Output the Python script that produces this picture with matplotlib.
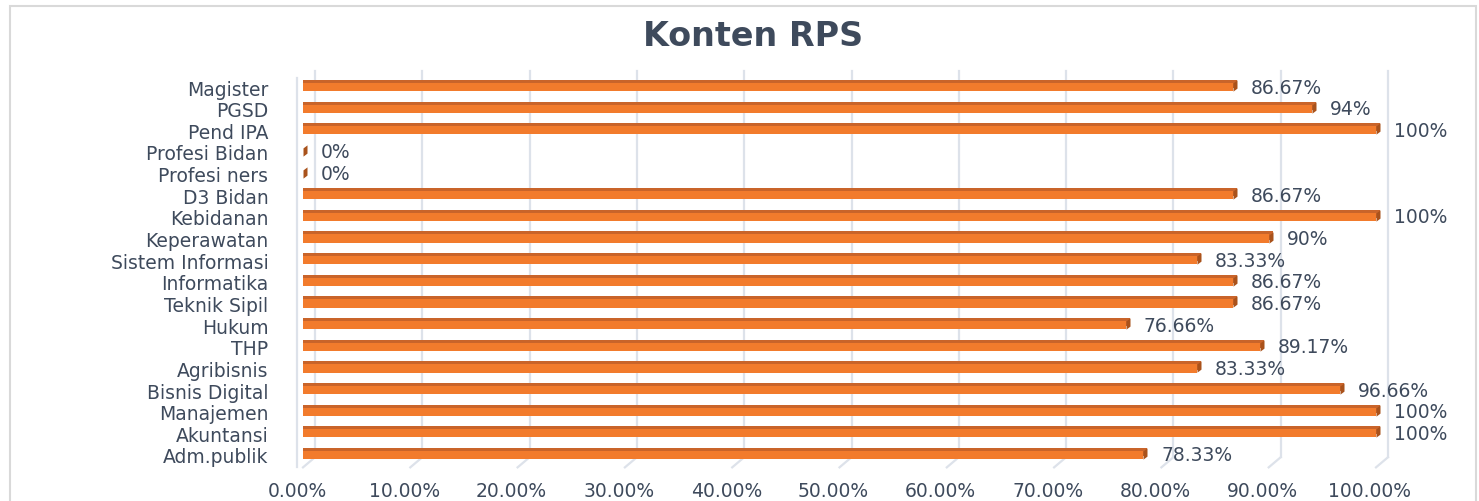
import numpy as np
import matplotlib
matplotlib.use("Agg")
import matplotlib.pyplot as plt
import matplotlib.transforms as mtransforms
from matplotlib.path import Path
from matplotlib.patches import Rectangle

categories = ["Adm.publik", "Akuntansi", "Manajemen", "Bisnis Digital", "Agribisnis",
              "THP", "Hukum", "Teknik Sipil", "Informatika", "Sistem Informasi",
              "Keperawatan", "Kebidanan", "D3 Bidan", "Profesi ners", "Profesi Bidan",
              "Pend IPA", "PGSD", "Magister"]
values = [78.33, 100, 100, 96.66, 83.33, 89.17, 76.66, 86.67, 86.67, 83.33,
          90, 100, 86.67, 0, 0, 100, 94, 86.67]
value_labels = ["78.33%", "100%", "100%", "96.66%", "83.33%", "89.17%", "76.66%",
                "86.67%", "86.67%", "83.33%", "90%", "100%", "86.67%", "0%", "0%",
                "100%", "94%", "86.67%"]
x_ticks = [0, 10, 20, 30, 40, 50, 60, 70, 80, 90, 100]
x_tick_labels = ["0.00%", "10.00%", "20.00%", "30.00%", "40.00%", "50.00%",
                 "60.00%", "70.00%", "80.00%", "90.00%", "100.00%"]
title = "Konten RPS"

TEXT = "#3E4A5C"
ORANGE = "#F27B2C"
DARK = "#A9521B"
TOPC = "#C9642A"
GRID = "#DDE2EA"

W, H = 1479, 502
fig = plt.figure(figsize=(W / 100, H / 100), dpi=100)
fig.patches.append(Rectangle((10 / W, -0.01), (1476 - 10) / W, (H - 7) / H + 0.01,
                             transform=fig.transFigure, fill=False,
                             edgecolor="#D9D9D9", lw=1.5))

ax = fig.add_axes([303 / W, 35.2 / H, 1073 / W, 389.6 / H])
ax.set_xlim(0, 100)
ax.set_ylim(-0.5, len(categories) - 0.5)
for s in ax.spines.values():
    s.set_visible(False)

px_per_x = ax.bbox.width / 100.0
px_per_y = ax.bbox.height / len(categories)

# 3D offsets (pixels)
dxp, dyp = 4, 3
bar_h = 0.38
bar_px = bar_h * px_per_y
back_dx = 12  # back wall offset for gridlines

# gridlines on back wall + floor slant
xt = ax.get_xaxis_transform()
for t in x_ticks:
    off = mtransforms.ScaledTranslation(back_dx / 100, 0, fig.dpi_scale_trans)
    ax.plot([t, t], [0.022, 1.013], color=GRID, lw=1.6, transform=xt + off,
            clip_on=False, zorder=0)
    ax.plot([t + back_dx / px_per_x, t], [0.022, -0.004], color=GRID, lw=1.6,
            transform=xt, clip_on=False, zorder=0)
# left wall edge
offl = mtransforms.ScaledTranslation(-6 / 100, 0, fig.dpi_scale_trans)
ax.plot([0, 0], [-0.004, 0.995], color=GRID, lw=1.6, transform=xt + offl,
        clip_on=False, zorder=0)

y = np.arange(len(categories))
shift = dxp / px_per_x
back = ax.transData + mtransforms.ScaledTranslation(dxp / 100, dyp / 100, fig.dpi_scale_trans)
vals = np.array(values, dtype=float)
bb = ax.barh(y, np.where(vals > 0, vals + shift, 0), left=-shift, height=bar_h,
             color=TOPC, transform=back, zorder=2, linewidth=0)
fb = ax.barh(y, vals, height=bar_h, color=ORANGE, zorder=3, linewidth=0)
for p in list(bb) + list(fb):
    p.set_clip_on(False)

# end caps as markers
hp = bar_px / 2
verts = [(0, -hp), (0, hp), (dxp, hp + dyp), (dxp, -hp + dyp), (0, -hp)]
mx = max(abs(v) for p in verts for v in p)
cap = Path(verts, closed=True)
ax.plot(vals, y, linestyle="none", marker=cap, markersize=2 * mx * 0.72,
        markerfacecolor=DARK, markeredgewidth=0, zorder=4, clip_on=False)

for v, yy, lab in zip(vals, y, value_labels):
    ax.annotate(lab, (v, yy), xytext=(13, 0), textcoords="offset points",
                va="center", ha="left", fontsize=13.5, color=TEXT)

ax.set_yticks(y)
ax.set_yticklabels(categories, fontsize=13.5, color=TEXT)
ax.set_xticks(x_ticks)
ax.set_xticklabels(x_tick_labels, fontsize=13.5, color=TEXT)
ax.tick_params(axis="y", length=0, pad=25)
ax.tick_params(axis="x", length=0, pad=11)
for lab in ax.get_xticklabels():
    lab.set_transform(lab.get_transform() + mtransforms.ScaledTranslation(-6 / 100, 0, fig.dpi_scale_trans))

fig.text(753 / W, 1 - 37 / H, title, ha="center", va="center", fontsize=24,
         fontweight="bold", color=TEXT)

fig.savefig("out.png", dpi=100)
